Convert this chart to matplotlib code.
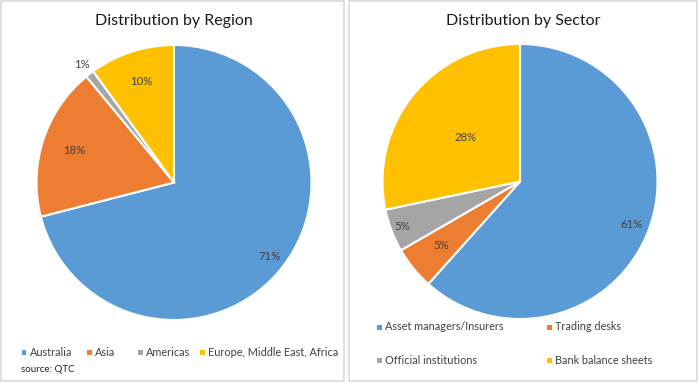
import numpy as np
import matplotlib.pyplot as plt
from matplotlib.patches import Rectangle

region_labels = ["Australia", "Asia", "Americas", "Europe, Middle East, Africa"]
region_values = [71, 18, 1, 10]
sector_labels = ["Asset managers/Insurers", "Trading desks",
                 "Official institutions", "Bank balance sheets"]
sector_values = [61, 5, 5, 28]

colors = ["#5B9BD5", "#ED7D31", "#A5A5A5", "#FFC000"]
txt = "#404040"
plt.rcParams['font.family'] = ['Lato', 'DejaVu Sans']

W, H = 699, 384
fig = plt.figure(figsize=(W / 100, H / 100), dpi=100)


def px(x, y):
    # pixel (from top-left) -> figure fraction
    return x / W, 1 - y / H


def panel(x0, x1):
    fig.patches.append(Rectangle(px(x0, 381), (x1 - x0) / W, 380 / H,
                                 transform=fig.transFigure, fill=False,
                                 edgecolor="#D9D9D9", linewidth=1.2))


def pie(cx, cy, r, values, label_r):
    l, b = px(cx - r, cy + r)
    ax = fig.add_axes([l, b, 2 * r / W, 2 * r / H])
    wedges, _ = ax.pie(values, colors=colors, startangle=90, counterclock=False,
                       wedgeprops=dict(edgecolor="white", linewidth=1.5))
    for w, v, lr in zip(wedges, values, label_r):
        a = np.deg2rad((w.theta1 + w.theta2) / 2)
        ax.text(lr * np.cos(a), lr * np.sin(a), f"{v}%", ha="center",
                va="center", fontsize=8.2, color=txt)
    ax.set_xlim(-1, 1)
    ax.set_ylim(-1, 1)
    return ax


def legend_item(x, y, label):
    fx, fy = px(x - 2.5, y + 2.5)
    fig.patches.append(Rectangle((fx, fy), 5 / W, 5 / H, transform=fig.transFigure,
                                 facecolor=label[1], edgecolor="none"))
    fig.text(*px(x + 6, y), label[0], ha="left", va="center", fontsize=7.8, color=txt)


panel(1, 344)
panel(349, 697)

fig.text(*px(174, 21), "Distribution by Region", ha="center", va="center",
         fontsize=11.5, color="#1a1a1a")
fig.text(*px(523, 21), "Distribution by Sector", ha="center", va="center",
         fontsize=11.5, color="#1a1a1a")

pie(174, 182.5, 137.5, region_values, [0.88, 0.76, 1.09, 0.77])
pie(520, 181.5, 137.5, sector_values, [0.87, 0.74, 0.92, 0.51])

for x, lab, c in zip([24, 89, 140, 202], region_labels, colors):
    legend_item(x, 352, (lab, c))
fig.text(*px(21, 370), "source: QTC", ha="left", va="center", fontsize=7,
         color="#222222")

for (x, y), lab, c in zip([(379, 327), (549, 327), (379, 360), (549, 360)],
                          sector_labels, colors):
    legend_item(x, y, (lab, c))

fig.savefig("out.png", dpi=100)
